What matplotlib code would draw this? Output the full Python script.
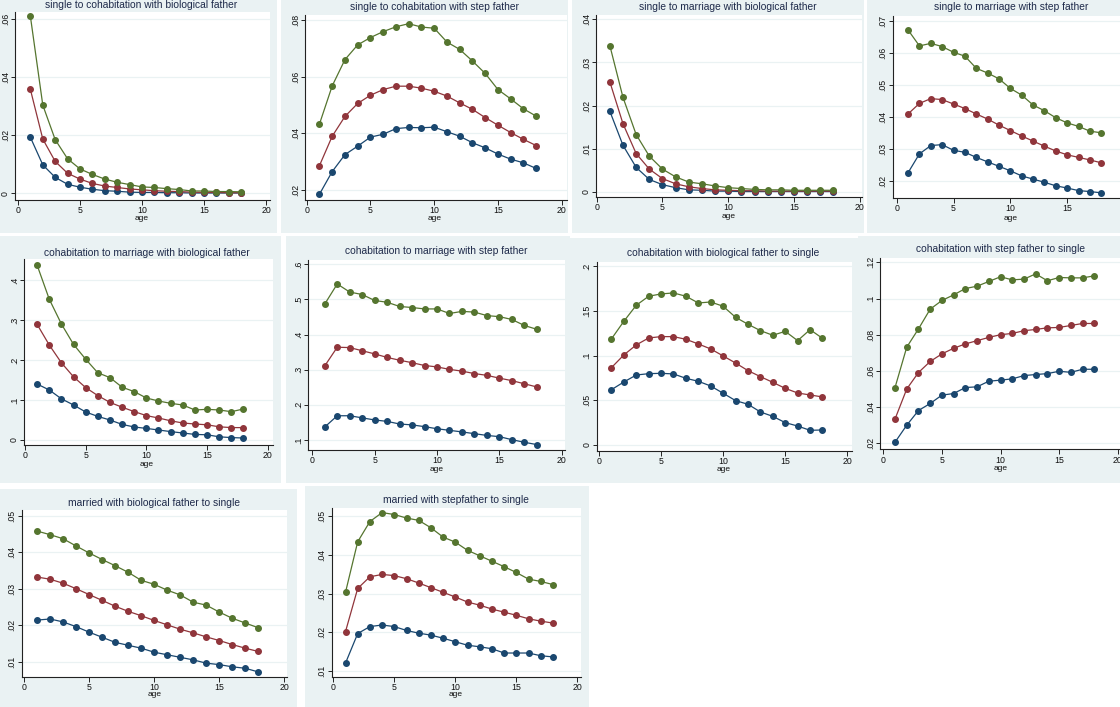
"""
Transition probabilities by age, ten small Stata-style panels.
"""

import matplotlib

matplotlib.use("Agg")
import matplotlib.pyplot as plt
from matplotlib.patches import Rectangle

W, H = 1120, 707

age = list(range(1, 19))

titles = [
    "single to cohabitation with biological father",
    "single to cohabitation with step father",
    "single to marriage with biological father",
    "single to marriage with step father",
    "cohabitation to marriage with biological father",
    "cohabitation to marriage with step father",
    "cohabitation with biological father to single",
    "cohabitation with step father to single",
    "married with biological father to single",
    "married with stepfather to single",
]

# series per panel: low (navy), mid (maroon), high (green)
low = [
    [.0193, .0098, .0055, .0031, .0021, .0014, .0009, .0007, .0004, .0003, .0003, .0002, .0002, .0001, .0001, .0001, .0001, .0001],
    [.0184, .0264, .0324, .0354, .0386, .0396, .0416, .0420, .0419, .0421, .0405, .0389, .0366, .0348, .0326, .0308, .0295, .0275],
    [.0187, .0108, .0057, .0029, .0017, .0010, .0005, .0004, .0002, .0002, .0001, .0001, .0001, .0001, .0001, .0001, .0001, .0001],
    [.0225, .0284, .0310, .0313, .0295, .0289, .0273, .0259, .0245, .0231, .0215, .0205, .0195, .0184, .0177, .0169, .0166, .0162],
    [.140, .125, .103, .0875, .070, .059, .050, .039, .0325, .029, .025, .021, .0175, .014, .013, .008, .006, .005],
    [.137, .169, .169, .163, .157, .153, .1455, .143, .138, .132, .1275, .123, .118, .113, .1095, .101, .0935, .087],
    [.0618, .0704, .0782, .0797, .0801, .0794, .0745, .0712, .0659, .0578, .0496, .0455, .0369, .0320, .0250, .0212, .0164, .0168],
    [.0206, .0300, .0381, .0420, .0466, .0475, .0508, .0512, .0543, .0549, .0556, .0574, .0580, .0585, .0598, .0592, .0609, .0609],
    [.0214, .0217, .0209, .0196, .0181, .0167, .0153, .0145, .0137, .0126, .0119, .0112, .0105, .0096, .0092, .0086, .0082, .0072],
    [.0121, .0197, .0215, .0219, .0215, .0205, .0198, .0193, .0185, .0176, .0167, .0163, .0158, .0147, .0147, .0147, .0140, .0137],
]
mid = [
    [.0358, .0187, .0110, .0069, .0049, .0034, .0025, .0020, .0015, .0012, .0009, .0007, .0006, .0004, .0003, .0003, .0002, .0002],
    [.0285, .0389, .0459, .0505, .0534, .0554, .0566, .0566, .0559, .0548, .0531, .0507, .0484, .0455, .0428, .0402, .0378, .0356],
    [.0255, .0158, .0089, .0053, .0031, .0019, .0012, .0008, .0005, .0004, .0003, .0003, .0002, .0002, .0002, .0002, .0002, .0002],
    [.0409, .0442, .0457, .0454, .0440, .0426, .0409, .0393, .0374, .0357, .0340, .0324, .0308, .0293, .0281, .0273, .0265, .0256],
    [.289, .2375, .193, .158, .131, .111, .094, .082, .071, .061, .055, .048, .0425, .040, .038, .033, .031, .031],
    [.311, .364, .363, .354, .345, .335, .327, .320, .312, .308, .301, .296, .289, .284, .276, .269, .260, .251],
    [.0864, .1006, .1118, .1196, .1211, .1211, .1181, .1129, .1073, .0995, .0916, .0831, .0764, .0700, .0633, .0581, .0559, .0537],
    [.0334, .0500, .0591, .0652, .0694, .0725, .0749, .0767, .0785, .0800, .0807, .0822, .0829, .0838, .0840, .0851, .0862, .0862],
    [.0332, .0326, .0315, .0300, .0284, .0268, .0252, .0238, .0226, .0213, .0201, .0189, .0179, .0168, .0158, .0147, .0137, .0128],
    [.0202, .0313, .0343, .0349, .0346, .0338, .0327, .0315, .0303, .0291, .0278, .0270, .0260, .0252, .0244, .0235, .0229, .0224],
]
high = [
    [.0610, .0304, .0185, .0119, .0084, .0065, .0049, .0038, .0030, .0022, .0020, .0016, .0013, .0008, .0008, .0006, .0006, .0005],
    [.0432, .0567, .0660, .0712, .0738, .0759, .0776, .0787, .0775, .0771, .0722, .0696, .0655, .0611, .0554, .0521, .0486, .0460],
    [.0339, .0219, .0133, .0083, .0053, .0035, .0023, .0019, .0014, .0010, .0008, .0006, .0005, .0005, .0004, .0004, .0004, .0004],
    [.0672, .0622, .0630, .0620, .0602, .0590, .0552, .0537, .0519, .0489, .0468, .0437, .0419, .0397, .0381, .0370, .0355, .0350],
    [.437, .352, .290, .239, .202, .168, .156, .132, .121, .105, .0975, .0917, .0875, .075, .0767, .075, .0708, .0775],
    [.487, .544, .521, .514, .497, .492, .480, .477, .473, .473, .460, .466, .464, .454, .451, .443, .426, .415],
    [.1185, .1382, .1561, .1662, .1688, .1699, .1662, .1587, .1598, .1550, .1427, .1349, .1278, .1226, .1270, .1166, .1289, .1192],
    [.0508, .0731, .0832, .0941, .0989, .1020, .1055, .1068, .1094, .1120, .1103, .1107, .1136, .1098, .1116, .1114, .1114, .1125],
    [.0458, .0448, .0437, .0417, .0398, .0380, .0363, .0345, .0323, .0312, .0296, .0283, .0263, .0255, .0236, .0219, .0206, .0193],
    [.0303, .0433, .0485, .0508, .0503, .0494, .0488, .0469, .0445, .0432, .0411, .0397, .0383, .0369, .0354, .0337, .0331, .0323],
]

yticks = [
    [0, .02, .04, .06],
    [.02, .04, .06, .08],
    [0, .01, .02, .03, .04],
    [.02, .03, .04, .05, .06, .07],
    [0, .1, .2, .3, .4],
    [.1, .2, .3, .4, .5, .6],
    [0, .05, .1, .15, .2],
    [.02, .04, .06, .08, .1, .12],
    [.01, .02, .03, .04, .05],
    [.01, .02, .03, .04, .05],
]
ytick_labels = [
    ["0", ".02", ".04", ".06"],
    [".02", ".04", ".06", ".08"],
    ["0", ".01", ".02", ".03", ".04"],
    [".02", ".03", ".04", ".05", ".06", ".07"],
    ["0", ".1", ".2", ".3", ".4"],
    [".1", ".2", ".3", ".4", ".5", ".6"],
    ["0", ".05", ".1", ".15", ".2"],
    [".02", ".04", ".06", ".08", ".1", ".12"],
    [".01", ".02", ".03", ".04", ".05"],
    [".01", ".02", ".03", ".04", ".05"],
]
xticks = [0, 5, 10, 15, 20]

# layout in pixels
# background box (x0, y0, x1, y1), plot box (L, T, R, B),
# x pixel of age 0 / age 20, (pixel, value) of two y ticks,
# title centre (x, y), "age" y
layout = [
    ((0, 0, 277, 233), (15, 12, 270, 200), (18, 266), ((193.3, 0), (19.3, .06)), (141.5, 5), 219),
    ((281, 0, 568, 233), (305, 15, 567, 200), (306.7, 561.7), ((189.7, .02), (20, .08)), (434, 7), 219),
    ((572, 0, 864, 233), (596, 15, 862, 197), (596.7, 859.8), ((192, 0), (19.3, .04)), (728, 7), 216),
    ((867, 0, 1120, 233), (892.7, 16, 1135, 198), (896.7, 1124), ((180.7, .02), (21, .07)), (1011, 7), 218),
    ((0, 236, 281, 483), (24, 259, 272.7, 445), (25, 267.7), ((440, 0), (280, .4)), (147, 253), 464),
    ((286, 236, 570, 483), (308.3, 260, 565, 450), (312.3, 561.7), ((440, .1), (264.3, .6)), (436, 251), 469.5),
    ((570, 238, 858, 483), (596.7, 261.7, 851.7, 450.7), (599, 847.3), ((445, 0), (266, .2)), (723, 253), 469.5),
    ((858, 236, 1120, 483), (880, 258.3, 1122, 449.3), (883.3, 1117.7), ((443.3, .02), (262.3, .12)), (1001, 248.5), 469),
    ((0, 489, 297, 707), (21.7, 510, 287.3, 676.7), (24, 284.3), ((661.7, .01), (515.7, .05)), (154, 503), 694.5),
    ((305, 486, 589, 707), (331.7, 507.7, 580.7, 676.7), (333.3, 577.3), ((671.3, .01), (515.7, .05)), (455.5, 500), 694.5),
]

BG = "#EAF2F3"
COLORS = ["#1A476F", "#90353B", "#55752F"]
TITLE_FONT = ["Liberation Sans Narrow", "Liberation Sans", "DejaVu Sans"]
TICK_FONT = ["Liberation Sans", "DejaVu Sans"]

plt.rcParams["font.family"] = TICK_FONT

fig = plt.figure(figsize=(W / 100, H / 100), dpi=100)
fig.patch.set_facecolor("white")


def fx(x):
    return x / W


def fy(y):
    return 1 - y / H


for i, (bg, box, xpx, ypx, tpos, agey) in enumerate(layout):
    # panel background
    x0, y0, x1, y1 = bg
    fig.add_artist(
        Rectangle(
            (fx(x0), fy(y1)), (x1 - x0) / W, (y1 - y0) / H,
            transform=fig.transFigure, facecolor=BG, edgecolor="none",
            zorder=2 * i,
        )
    )

    L, T, R, B = box
    ax = fig.add_axes([fx(L), fy(B), (R - L) / W, (B - T) / H])
    ax.set_zorder(2 * i + 1)
    ax.set_facecolor("white")

    # limits so that ticks land on the same pixels as the reference
    sx = (xpx[1] - xpx[0]) / 20
    ax.set_xlim((L - xpx[0]) / sx, (R - xpx[0]) / sx)
    (pa, va), (pb, vb) = ypx
    sy = (pa - pb) / (vb - va)
    ax.set_ylim(va - (B - pa) / sy, va + (pa - T) / sy)

    for vals, c in zip([low[i], mid[i], high[i]], COLORS):
        ax.plot(age, vals, "-o", color=c, lw=0.9, ms=4, mec=c, clip_on=False)

    ax.set_xticks(xticks)
    ax.set_xticklabels([str(t) for t in xticks])
    ax.set_yticks(yticks[i])
    ax.set_yticklabels(ytick_labels[i], rotation=90, va="center")
    ax.grid(axis="y", color=BG, lw=0.9)
    ax.set_axisbelow(True)
    for s in ["top", "right"]:
        ax.spines[s].set_visible(False)
    for s in ["left", "bottom"]:
        ax.spines[s].set_color("#222222")
        ax.spines[s].set_linewidth(0.8)
    ax.tick_params(width=0.7, color="#222222", labelsize=6.3,
                   labelcolor="#111111")
    ax.tick_params(axis="x", length=3.5, pad=1.0)
    ax.tick_params(axis="y", length=3, pad=0.8)

    # title and axis label placed like the reference
    xmid = (xpx[0] + xpx[1]) / 2
    fig.text(fx(tpos[0]), fy(tpos[1]), titles[i], family=TITLE_FONT,
             ha="center", va="center", fontsize=7.4, color="#1e2a4a",
             zorder=2 * i + 1)
    fig.text(fx(xmid), fy(agey), "age", ha="center", va="center",
             fontsize=6, color="#111111", zorder=2 * i + 1)

fig.savefig("out.png", dpi=100)
